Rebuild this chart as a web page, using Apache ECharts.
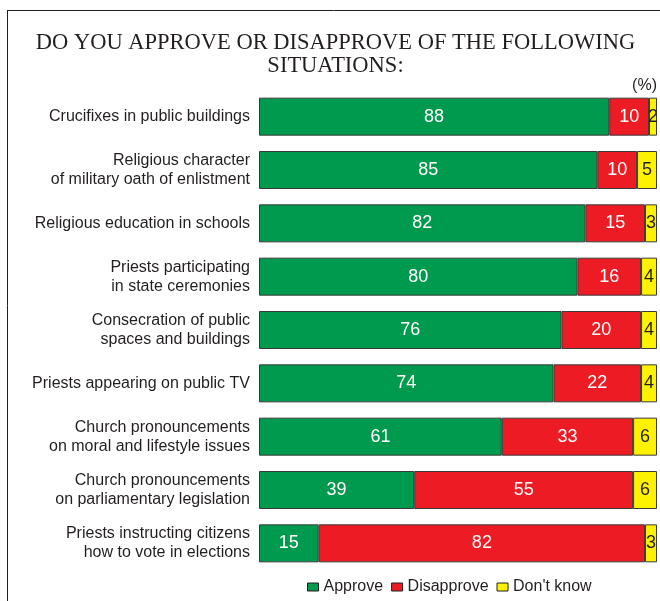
<!DOCTYPE html>
<html>
<head>
<meta charset="utf-8">
<script src="https://cdn.jsdelivr.net/npm/echarts@6/dist/echarts.min.js"></script>
<style>
  html, body { margin: 0; padding: 0; background: #fff; }
  #chart { width: 660px; height: 601px; }
</style>
</head>
<body>
<div id="chart"></div>
<script>
const categories = [
  'Crucifixes in public buildings',
  'Religious character\nof military oath of enlistment',
  'Religious education in schools',
  'Priests participating\nin state ceremonies',
  'Consecration of public\nspaces and buildings',
  'Priests appearing on public TV',
  'Church pronouncements\non moral and lifestyle issues',
  'Church pronouncements\non parliamentary legislation',
  'Priests instructing citizens\nhow to vote in elections'
];
const approve    = [88, 85, 82, 80, 76, 74, 61, 39, 15];
const disapprove = [10, 10, 15, 16, 20, 22, 33, 55, 82];
const dontKnow   = [2, 5, 3, 4, 4, 4, 6, 6, 3];
const seriesNames = ['Approve', 'Disapprove', "Don't know"];
const colors = ['#009a4e', '#ed1c24', '#fff200'];
const labelColors = ['#ffffff', '#ffffff', '#231f20'];
const titleText = 'DO YOU APPROVE OR DISAPPROVE OF THE FOLLOWING\nSITUATIONS:';

const sans = 'Liberation Sans, Arial, sans-serif';
const chart = echarts.init(document.getElementById('chart'), null, { renderer: 'canvas' });

const seriesData = [approve, disapprove, dontKnow];
const series = seriesData.map((vals, i) => ({
  name: seriesNames[i],
  type: 'bar',
  stack: 'total',
  barWidth: 38,
  data: vals,
  itemStyle: { color: colors[i], borderColor: '#3a3a3a', borderWidth: 1 },
  label: {
    show: true,
    position: 'inside',
    color: labelColors[i],
    fontFamily: sans,
    fontSize: 18
  }
}));

chart.setOption({
  animation: false,
  legend: {
    data: seriesNames,
    left: 307,
    top: 579,
    padding: 0,
    itemWidth: 11,
    itemHeight: 8,
    itemGap: 8,
    icon: 'rect',
    itemStyle: { borderColor: '#231f20', borderWidth: 1 },
    textStyle: {
      fontFamily: sans,
      fontSize: 16,
      color: '#231f20'
    }
  },
  grid: { left: 259, right: 3, top: 90, height: 480, containLabel: false },
  xAxis: { type: 'value', min: 0, max: 100, show: false },
  yAxis: {
    type: 'category',
    inverse: true,
    data: categories,
    axisLine: { show: false },
    axisTick: { show: false },
    axisLabel: {
      margin: 9,
      fontFamily: sans,
      fontSize: 16,
      lineHeight: 19,
      color: '#231f20',
      align: 'right'
    }
  },
  graphic: [
    // frame edges
    { type: 'line', shape: { x1: 7.5, y1: 10, x2: 7.5, y2: 601 }, style: { stroke: '#231f20', lineWidth: 1 } },
    { type: 'line', shape: { x1: 7, y1: 10.5, x2: 660, y2: 10.5 }, style: { stroke: '#231f20', lineWidth: 1 } },
    // heading
    {
      type: 'text', x: 335.5, y: 32,
      style: {
        text: titleText,
        font: '22.5px Liberation Serif, Times New Roman, serif',
        fill: '#231f20',
        align: 'center',
        verticalAlign: 'top',
        lineHeight: 23
      }
    },
    // unit marker
    { type: 'text', right: 3, top: 78, style: { text: '(%)', font: '16px Liberation Sans, Arial, sans-serif', fill: '#231f20' } }
  ],
  series: series
});
</script>
</body>
</html>
